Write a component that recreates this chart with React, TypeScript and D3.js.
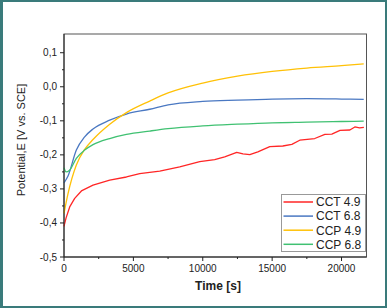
import * as d3 from 'd3';

const W = 387;
const H = 308;

// series: time [s] and potential [V vs. SCE]
const cct49T = [0, 150, 410, 770, 1254, 2090, 3295, 4500, 5457, 6900, 8340, 9783, 10860, 11580, 12450, 12900, 13390, 13970, 14255, 14830, 15770, 16420, 16990, 18070, 18800, 19300, 19890, 20600, 20960, 21300, 21610];
const cct49V = [-0.41, -0.385, -0.353, -0.328, -0.306, -0.289, -0.274, -0.265, -0.255, -0.248, -0.235, -0.22, -0.214, -0.206, -0.193, -0.197, -0.199, -0.191, -0.186, -0.176, -0.174, -0.169, -0.157, -0.152, -0.14, -0.139, -0.128, -0.127, -0.118, -0.121, -0.119];

const cct68T = [0, 290, 890, 1490, 2090, 3295, 4500, 6180, 7500, 10000, 12500, 15000, 17500, 20000, 21600];
const cct68V = [-0.282, -0.262, -0.186, -0.147, -0.124, -0.098, -0.08, -0.066, -0.053, -0.043, -0.039, -0.036, -0.035, -0.036, -0.037];

const ccp49T = [0, 290, 890, 1490, 2090, 3295, 4500, 6180, 7500, 10000, 12500, 15000, 17500, 20000, 21600];
const ccp49V = [-0.372, -0.314, -0.23, -0.184, -0.155, -0.11, -0.076, -0.042, -0.018, 0.011, 0.031, 0.045, 0.055, 0.062, 0.067];

const ccp68T = [0, 150, 400, 890, 1490, 2090, 3295, 4500, 6180, 7500, 10000, 12500, 15000, 17500, 20000, 21600];
const ccp68V = [-0.238, -0.25, -0.245, -0.21, -0.186, -0.17, -0.152, -0.14, -0.13, -0.123, -0.115, -0.11, -0.106, -0.104, -0.102, -0.101];

const seriesNames = ['CCT 4.9', 'CCT 6.8', 'CCP 4.9', 'CCP 6.8'];
const seriesColors = ['#ff2626', '#4a78c2', '#ffc107', '#40c172'];
const xTicks = [0, 5000, 10000, 15000, 20000];
const yTicks = [0.1, 0, -0.1, -0.2, -0.3, -0.4, -0.5];

const font = '"Liberation Sans", Arial, sans-serif';

export default function App() {
  const x = d3.scaleLinear().domain([0, 21800]).range([64, 366.5]);
  const y = d3.scaleLinear().domain([-0.5, 0.155]).range([257, 34]);

  const all = [
    { t: cct49T, v: cct49V, curve: d3.curveLinear },
    { t: cct68T, v: cct68V, curve: d3.curveMonotoneX },
    { t: ccp49T, v: ccp49V, curve: d3.curveMonotoneX },
    { t: ccp68T, v: ccp68V, curve: d3.curveMonotoneX },
  ];

  const xMinor = d3.range(0, 21801, 2500).filter((d) => d % 5000 !== 0);
  const yMinor = d3.range(-0.45, 0.15, 0.1);

  const fmtY = (d: number) => d.toFixed(1).replace('.', ',').replace('-0,0', '0,0');
  const [x0, x1] = x.range();
  const [y0, y1] = y.range();

  return (
    <svg width={W} height={H} style={{ position: 'absolute', left: 0, top: 0, fontFamily: font }}>
      <rect x={0} y={0} width={W} height={H} fill="#3a7b7b" />
      <rect x={3} y={2} width={W - 5} height={H - 4} fill="#ffffff" />

      {/* plot frame */}
      <rect x={x0} y={y1} width={x1 - x0} height={y0 - y1} fill="none" stroke="#555" strokeWidth={1} />

      {/* series */}
      {all.map((s, i) => {
        const line = d3
          .line<number>()
          .x((_, j) => x(s.t[j]))
          .y((d) => y(d))
          .curve(s.curve);
        return (
          <path key={i} d={line(s.v) ?? ''} fill="none" stroke={seriesColors[i]} strokeWidth={1.3} strokeLinejoin="round" />
        );
      })}

      {/* y axis */}
      <line x1={x0} x2={x0} y1={y1} y2={y0} stroke="#222" />
      {yTicks.map((d) => (
        <g key={d}>
          <line x1={x0 - 4} x2={x0} y1={y(d)} y2={y(d)} stroke="#222" />
          <text x={x0 - 7} y={y(d)} dy="0.35em" textAnchor="end" fontSize={10} fill="#222">
            {fmtY(d)}
          </text>
        </g>
      ))}
      {yMinor.map((d) => (
        <line key={d} x1={x0 - 2} x2={x0} y1={y(d)} y2={y(d)} stroke="#222" />
      ))}

      {/* x axis */}
      <line x1={x0} x2={x1} y1={y0} y2={y0} stroke="#222" />
      {xTicks.map((d) => (
        <g key={d}>
          <line x1={x(d)} x2={x(d)} y1={y0} y2={y0 + 4} stroke="#222" />
          <text x={x(d)} y={y0 + 15} textAnchor="middle" fontSize={10} fill="#222">
            {d}
          </text>
        </g>
      ))}
      {xMinor.map((d) => (
        <line key={d} x1={x(d)} x2={x(d)} y1={y0} y2={y0 + 2} stroke="#222" />
      ))}

      {/* axis titles */}
      <text x={218} y={290} textAnchor="middle" fontSize={12} fontWeight="bold" fill="#222">
        Time [s]
      </text>
      <text transform="translate(24.5,140) rotate(-90)" textAnchor="middle" fontSize={11} fill="#222">
        Potential,E [V vs. SCE]
      </text>

      {/* legend */}
      <rect x={281.5} y={194.5} width={84} height={57} fill="#fff" stroke="#999" />
      {seriesNames.map((n, i) => {
        const ly = 202 + i * 14.1;
        return (
          <g key={n}>
            <line x1={283.5} x2={313} y1={ly} y2={ly} stroke={seriesColors[i]} strokeWidth={1.5} />
            <text x={316} y={ly} dy="0.36em" fontSize={12} fill="#222">
              {n}
            </text>
          </g>
        );
      })}
    </svg>
  );
}
